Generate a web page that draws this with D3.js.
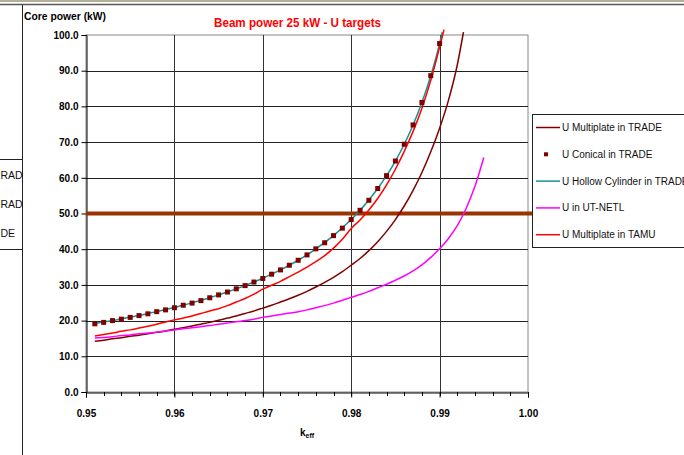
<!DOCTYPE html>
<html>
<head>
<meta charset="utf-8">
<script src="https://cdn.jsdelivr.net/npm/d3@7"></script>
<style>
  body { margin: 0; background: #fff; }
  svg { display: block; font-family: "Liberation Sans", Arial, sans-serif; }
</style>
</head>
<body>
<script>
// k_eff grid used by the TRADE / TAMU series
var kGrid = [0.951, 0.952, 0.953, 0.954, 0.955, 0.956, 0.957, 0.958, 0.959, 0.960,
	0.961, 0.962, 0.963, 0.964, 0.965, 0.966, 0.967, 0.968, 0.969, 0.970,
	0.971, 0.972, 0.973, 0.974, 0.975, 0.976, 0.977, 0.978, 0.979, 0.980,
	0.981, 0.982, 0.983, 0.984, 0.985, 0.986, 0.987, 0.988, 0.989, 0.990];

var kMultiTrade = kGrid.concat([0.991, 0.992, 0.9927]);
var pMultiTrade = [14.2, 14.5, 14.9, 15.2, 15.6, 15.9, 16.3, 16.7, 17.1, 17.6,
	18.0, 18.5, 19.0, 19.5, 20.1, 20.7, 21.3, 22.0, 22.7, 23.5,
	24.3, 25.2, 26.1, 27.1, 28.2, 29.4, 30.7, 32.1, 33.7, 35.5,
	37.4, 39.6, 42.1, 45.0, 48.3, 52.1, 56.5, 61.5, 67.3, 73.9,
	81.7, 91.6, 100.8];

var kConical = kGrid;
var pConical = [19.1, 19.5, 20.0, 20.4, 20.9, 21.4, 21.9, 22.5, 23.0, 23.6,
	24.3, 24.9, 25.6, 26.4, 27.2, 28.0, 28.9, 29.8, 30.8, 31.8,
	33.0, 34.2, 35.5, 36.9, 38.4, 40.1, 41.8, 43.8, 45.9, 48.3,
	50.9, 53.7, 57.0, 60.6, 64.7, 69.4, 74.8, 81.1, 88.6, 97.6];

var kHollow = kGrid.concat([0.9903]);
var pHollow = [19.2, 19.6, 20.0, 20.5, 21.0, 21.4, 22.0, 22.5, 23.1, 23.7,
	24.3, 25.0, 25.7, 26.4, 27.2, 28.0, 28.9, 29.8, 30.8, 31.9,
	33.0, 34.2, 35.5, 36.9, 38.4, 40.1, 41.9, 43.8, 46.0, 48.3,
	50.9, 53.8, 57.0, 60.6, 64.7, 69.4, 74.8, 81.1, 88.6, 97.6,
	100.8];

var kNetl = kGrid.concat([0.991, 0.992, 0.993, 0.994, 0.995]);
var pNetl = [15.1, 15.3, 15.5, 15.8, 16.0, 16.3, 16.5, 16.8, 17.1, 17.4,
	17.7, 18.0, 18.3, 18.6, 19.0, 19.3, 19.7, 20.0, 20.4, 20.9,
	21.3, 21.7, 22.1, 22.5, 23.0, 23.6, 24.2, 24.9, 25.7, 26.5,
	27.3, 28.2, 29.2, 30.2, 31.3, 32.5, 33.9, 35.6, 37.7, 40.1,
	43.0, 46.6, 51.4, 57.6, 65.7];

var kTamu = kGrid.concat([0.9905]);
var pTamu = [15.7, 16.1, 16.5, 17.0, 17.4, 17.9, 18.4, 19.0, 19.6, 20.2,
	20.7, 21.3, 22.0, 22.7, 23.3, 24.2, 25.2, 26.2, 27.4, 28.8,
	29.9, 31.0, 32.3, 33.6, 35.0, 36.5, 38.2, 40.3, 42.8, 45.8,
	48.2, 51.0, 54.2, 58.0, 62.4, 67.4, 73.0, 79.5, 87.3, 96.6,
	101.5];

var beamPower = 50;
var xTicks = [0.95, 0.96, 0.97, 0.98, 0.99, 1.00];
var yTicks = [0, 10, 20, 30, 40, 50, 60, 70, 80, 90, 100];
var legendNames = ["U Multiplate in TRADE", "U Conical in TRADE", "U Hollow Cylinder in TRADE",
	"U in UT-NETL", "U Multiplate in TAMU"];
var fragmentTexts = ["RAD", "RAD", "DE"];

var W = 684, H = 455;
var plot = {left: 86, right: 528, top: 35, bottom: 392};

var x = d3.scaleLinear().domain([0.95, 1.00]).range([plot.left, plot.right]);
var y = d3.scaleLinear().domain([0, 100]).range([plot.bottom, plot.top]);

var svg = d3.select("body").append("svg")
	.attr("width", W)
	.attr("height", H);

// outer frame remnants
svg.append("rect").attr("x", 0).attr("y", 0).attr("width", W).attr("height", 2).attr("fill", "#b4af98");
svg.append("line").attr("x1", 0).attr("x2", W).attr("y1", 4.5).attr("y2", 4.5)
	.attr("stroke", "#555").attr("stroke-width", 1.5);
svg.append("line").attr("x1", 22.5).attr("x2", 22.5).attr("y1", 5).attr("y2", H)
	.attr("stroke", "#222");

// fragment of a neighbouring legend on the left
svg.append("line").attr("x1", 0).attr("x2", 22).attr("y1", 159.5).attr("y2", 159.5).attr("stroke", "#222");
svg.append("line").attr("x1", 0).attr("x2", 22).attr("y1", 249.5).attr("y2", 249.5).attr("stroke", "#222");
svg.append("g")
	.selectAll("text")
	.data(fragmentTexts)
	.enter().append("text")
	.attr("x", 0.5)
	.attr("y", function (d, i) { return 179 + i * 29; })
	.attr("font-size", 10.5)
	.attr("fill", "#111")
	.text(function (d) { return d; });

// plot area border
svg.append("rect")
	.attr("x", plot.left).attr("y", plot.top)
	.attr("width", plot.right - plot.left).attr("height", plot.bottom - plot.top)
	.attr("fill", "none").attr("stroke", "#888");

// grid lines
svg.append("g")
	.selectAll("line.hgrid")
	.data(yTicks.slice(1, -1))
	.enter().append("line")
	.attr("class", "hgrid")
	.attr("x1", plot.left).attr("x2", plot.right)
	.attr("y1", function (d) { return Math.round(y(d)) + 0.5; })
	.attr("y2", function (d) { return Math.round(y(d)) + 0.5; })
	.attr("stroke", "#222");

svg.append("g")
	.selectAll("line.vgrid")
	.data(xTicks.slice(1, -1))
	.enter().append("line")
	.attr("class", "vgrid")
	.attr("x1", function (d) { return Math.round(x(d)) + 0.5; })
	.attr("x2", function (d) { return Math.round(x(d)) + 0.5; })
	.attr("y1", plot.top).attr("y2", plot.bottom)
	.attr("stroke", "#333");

// y axis
var yAxis = svg.append("g")
	.attr("transform", "translate(" + (plot.left + 0.5) + ",0)")
	.call(d3.axisLeft(y).tickValues(yTicks).tickSize(5).tickPadding(3)
		.tickFormat(d3.format(".1f")));
yAxis.select(".domain").attr("stroke", "#000");
yAxis.selectAll(".tick line").attr("stroke", "#000");
yAxis.selectAll("text").attr("font-size", 10).attr("font-weight", "bold")
	.attr("font-family", "'Liberation Sans', Arial, sans-serif").attr("fill", "#000");

// x axis with minor ticks
var minorTicks = d3.range(0, 26).map(function (i) { return 0.95 + i * 0.002; });
svg.append("g")
	.selectAll("line.minor")
	.data(minorTicks)
	.enter().append("line")
	.attr("class", "minor")
	.attr("x1", function (d) { return Math.round(x(d)) + 0.5; })
	.attr("x2", function (d) { return Math.round(x(d)) + 0.5; })
	.attr("y1", plot.bottom).attr("y2", plot.bottom + 4)
	.attr("stroke", "#000");

var xAxis = svg.append("g")
	.attr("transform", "translate(0," + (plot.bottom + 0.5) + ")")
	.call(d3.axisBottom(x).tickValues(xTicks).tickSize(5).tickPadding(12)
		.tickFormat(d3.format(".2f")));
xAxis.select(".domain").attr("stroke", "#000");
xAxis.selectAll(".tick line").attr("stroke", "#000");
xAxis.selectAll("text").attr("font-size", 10).attr("font-weight", "bold")
	.attr("font-family", "'Liberation Sans', Arial, sans-serif").attr("fill", "#000");

// titles
svg.append("text")
	.attr("x", 24).attr("y", 20)
	.attr("font-size", 11).attr("font-weight", "bold")
	.attr("textLength", 82).attr("lengthAdjust", "spacingAndGlyphs")
	.text("Core power (kW)");

svg.append("text")
	.attr("x", 214).attr("y", 27)
	.attr("font-size", 13.5).attr("font-weight", "bold").attr("fill", "#ff0000")
	.attr("textLength", 167).attr("lengthAdjust", "spacingAndGlyphs")
	.text("Beam power 25 kW - U targets");

var kLabel = svg.append("text")
	.attr("x", 300).attr("y", 436)
	.attr("font-size", 10).attr("font-weight", "bold");
kLabel.append("tspan").text("k");
kLabel.append("tspan").attr("font-size", 7).attr("dy", 2).text("eff");

// beam power reference line
svg.append("line")
	.attr("x1", plot.left).attr("x2", W)
	.attr("y1", y(beamPower)).attr("y2", y(beamPower))
	.attr("stroke", "#993300").attr("stroke-width", 4);

// series
var line = d3.line()
	.x(function (d) { return x(d[0]); })
	.y(function (d) { return y(d[1]); })
	.curve(d3.curveMonotoneX);

function pairs(ks, ps) {
	return ks.map(function (k, i) { return [k, ps[i]]; });
}

svg.append("path").datum(pairs(kMultiTrade, pMultiTrade))
	.attr("fill", "none").attr("stroke", "#800000").attr("stroke-width", 1.5).attr("d", line);
svg.append("path").datum(pairs(kHollow, pHollow))
	.attr("fill", "none").attr("stroke", "#1a9090").attr("stroke-width", 1.5).attr("d", line);
svg.append("path").datum(pairs(kNetl, pNetl))
	.attr("fill", "none").attr("stroke", "#ff00ff").attr("stroke-width", 1.5).attr("d", line);
svg.append("path").datum(pairs(kTamu, pTamu))
	.attr("fill", "none").attr("stroke", "#ff0000").attr("stroke-width", 1.5).attr("d", line);

svg.append("g")
	.selectAll("rect")
	.data(pairs(kConical, pConical))
	.enter().append("rect")
	.attr("x", function (d) { return x(d[0]) - 2.5; })
	.attr("y", function (d) { return y(d[1]) - 2.5; })
	.attr("width", 5).attr("height", 5)
	.attr("fill", "#800000");

// legend
var legend = svg.append("g");
legend.append("rect")
	.attr("x", 532.5).attr("y", 114.5).attr("width", 170).attr("height", 133)
	.attr("fill", "#fff").attr("stroke", "#222");

var legendStyles = [
	{type: "line", color: "#800000"},
	{type: "square", color: "#800000"},
	{type: "line", color: "#1a9090"},
	{type: "line", color: "#ff00ff"},
	{type: "line", color: "#ff0000"}
];

var items = legend.selectAll("g.item")
	.data(legendNames)
	.enter().append("g")
	.attr("class", "item")
	.attr("transform", function (d, i) { return "translate(0," + (127.5 + i * 26.8) + ")"; });

items.each(function (d, i) {
	var g = d3.select(this);
	var s = legendStyles[i];
	if (s.type === "line") {
		g.append("line").attr("x1", 536).attr("x2", 560).attr("y1", 0).attr("y2", 0)
			.attr("stroke", s.color).attr("stroke-width", 1.5);
	} else {
		g.append("rect").attr("x", 544).attr("y", -2).attr("width", 4).attr("height", 4)
			.attr("fill", s.color);
	}
	g.append("text").attr("x", 562).attr("y", 3.5)
		.attr("font-size", 10).attr("fill", "#111")
		.text(d);
});
</script>
</body>
</html>
